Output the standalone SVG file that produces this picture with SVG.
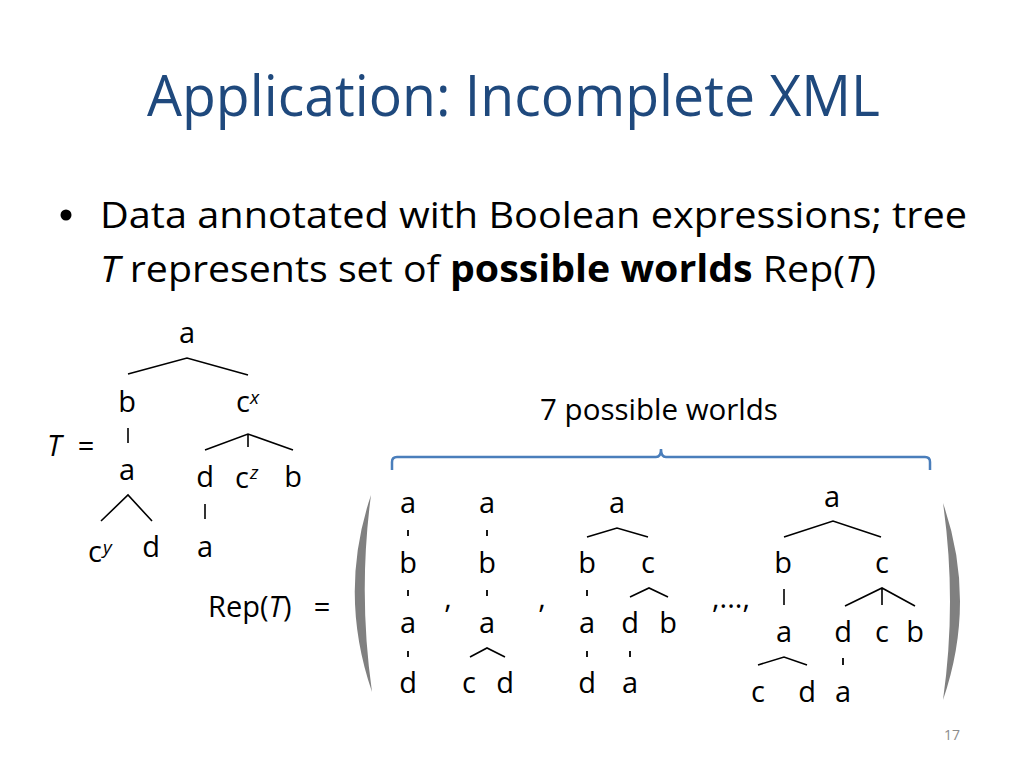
<svg xmlns="http://www.w3.org/2000/svg" width="1024" height="768" viewBox="0 0 1024 768">
<style>
.t{font-family:"Open Sans","Noto Sans",sans-serif;fill:#000}
.lb{font-family:"Open Sans","Noto Sans",sans-serif;font-size:29px;fill:#000;text-anchor:middle}
.sup{font-family:"Open Sans","Noto Sans",sans-serif;font-size:19px;font-style:italic;fill:#000}
.e{stroke:#000;stroke-width:1.6;fill:none}
.tk{stroke:#000;stroke-width:1.8;fill:none}
</style>
<rect width="1024" height="768" fill="#fff"/>
<text x="147" y="116" class="t" style="font-size:57px;fill:#1F497D" textLength="733" lengthAdjust="spacingAndGlyphs">Application: Incomplete XML</text>
<circle cx="66" cy="215" r="5.5" fill="#000"/>
<text x="100" y="228" class="t" style="font-size:37px" textLength="867" lengthAdjust="spacingAndGlyphs">Data annotated with Boolean expressions; tree</text>
<text x="100" y="282" class="t" style="font-size:37px" textLength="776" lengthAdjust="spacingAndGlyphs"><tspan font-style="italic">T</tspan> represents set of <tspan font-weight="bold">possible worlds</tspan> Rep(<tspan font-style="italic">T</tspan>)</text>

<g id="tree-T">
<text x="47" y="456" class="t" style="font-size:29px;font-style:italic">T</text>
<text x="86" y="456" class="lb">=</text>
<text x="187" y="343" class="lb">a</text>
<text x="127" y="412" class="lb">b</text>
<text x="243" y="412" class="lb">c</text><text x="250" y="404" class="sup">x</text>
<text x="127" y="480" class="lb">a</text>
<text x="205" y="487" class="lb">d</text>
<text x="242" y="488" class="lb">c</text><text x="250" y="479" class="sup">z</text>
<text x="293" y="487" class="lb">b</text>
<text x="95" y="562" class="lb">c</text><text x="103" y="554" class="sup">y</text>
<text x="151" y="557" class="lb">d</text>
<text x="205" y="557" class="lb">a</text>
</g>

<g id="rep-label">
<text x="208" y="617" class="t" style="font-size:29px">Rep(<tspan font-style="italic">T</tspan>)</text>
<text x="322" y="617" class="lb">=</text>
</g>

<g id="brace">
<text x="659" y="420" class="t" style="font-size:29.5px;text-anchor:middle">7 possible worlds</text>
<path d="M392,470 L392,462 Q392,457 397,457 L656,457 Q661,457 661,449 Q661,457 666,457 L925,457 Q930,457 930,462 L930,470" fill="none" stroke="#4A7EBB" stroke-width="2.5"/>
</g>

<g id="parens" fill="#808080">
<path d="M371,495 Q338,593 372,692 Q358,593 371,495 Z"/>
<path d="M943,503 Q977,601 943,700 Q957,601 943,503 Z"/>
</g>

<g id="world1">
<text x="408" y="513" class="lb">a</text>
<text x="408" y="573" class="lb">b</text>
<text x="408" y="633" class="lb">a</text>
<text x="408" y="693" class="lb">d</text>
</g>
<text x="448" y="608" class="lb">,</text>
<g id="world2">
<text x="487" y="513" class="lb">a</text>
<text x="487" y="573" class="lb">b</text>
<text x="487" y="633" class="lb">a</text>
<text x="469" y="693" class="lb">c</text>
<text x="505" y="693" class="lb">d</text>
</g>
<text x="542" y="608" class="lb">,</text>
<g id="world3">
<text x="617" y="513" class="lb">a</text>
<text x="587" y="573" class="lb">b</text>
<text x="648" y="573" class="lb">c</text>
<text x="587" y="633" class="lb">a</text>
<text x="630" y="633" class="lb">d</text>
<text x="668" y="633" class="lb">b</text>
<text x="587" y="693" class="lb">d</text>
<text x="630" y="693" class="lb">a</text>
</g>
<text x="731" y="608" class="lb">,...,</text>
<g id="world7">
<text x="832" y="507" class="lb">a</text>
<text x="783" y="573" class="lb">b</text>
<text x="882" y="573" class="lb">c</text>
<text x="784" y="642" class="lb">a</text>
<text x="843" y="642" class="lb">d</text>
<text x="882" y="642" class="lb">c</text>
<text x="915" y="642" class="lb">b</text>
<text x="758" y="702" class="lb">c</text>
<text x="807" y="702" class="lb">d</text>
<text x="843" y="702" class="lb">a</text>
</g>

<g id="connectors">
<path class="e" d="M128,374 L187,358 L248,375"/>
<path class="e" d="M128,428 L128,443"/>
<path class="e" d="M205,450 L248,434 L293,450 M248,434 L248,447"/>
<path class="e" d="M101,521 L128,495 L152,521"/>
<path class="e" d="M205,504 L205,519"/>
<path class="tk" d="M408,530 L408,536 M408,590 L408,596 M408,651 L408,657"/>
<path class="tk" d="M487,530 L487,536 M487,590 L487,596"/>
<path class="e" d="M470,657 L487,648 L505,657"/>
<path class="e" d="M587,537 L617,528 L648,537"/>
<path class="e" d="M630,597 L649,588 L668,597"/>
<path class="tk" d="M587,590 L587,596 M587,651 L587,657 M630,651 L630,657"/>
<path class="e" d="M784,537 L833,521 L881,537"/>
<path class="e" d="M784,589 L784,605"/>
<path class="e" d="M845,606 L882,588 L915,606 M882,588 L882,605"/>
<path class="e" d="M758,665 L784,657 L807,665"/>
<path class="tk" d="M843,658 L843,665"/>
</g>

<text x="952" y="740" class="t" style="font-size:14px;fill:#8C8C8C;text-anchor:middle">17</text>
</svg>
